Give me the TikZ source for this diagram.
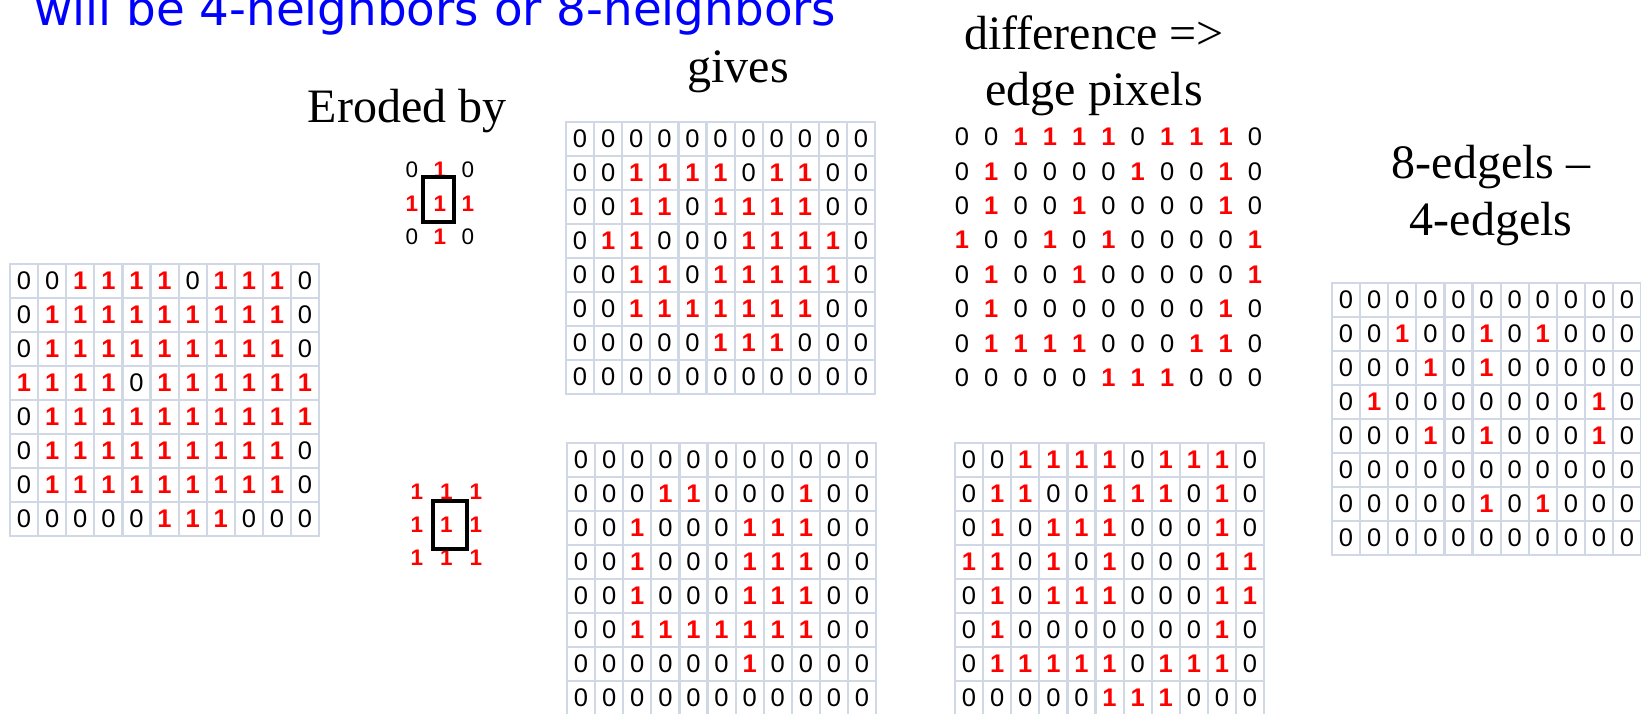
\documentclass[tikz,border=0pt]{standalone}
\usepackage{fontspec}
\setmainfont{Liberation Serif}
\setsansfont{Liberation Sans}
\newfontfamily\slidefont{DejaVu Sans}
\usetikzlibrary{positioning}
\definecolor{gridline}{RGB}{208,215,229}
\definecolor{slideblue}{RGB}{0,0,255}

\tikzset{
  pix/.style={inner sep=0pt, minimum width=28.1pt, minimum height=34pt,
    font=\sffamily\fontsize{25.5}{26}\selectfont},
  boxed/.style={draw=gridline, line width=2.2pt},
  sebit/.style={inner sep=0pt, font=\sffamily\fontsize{22.5}{23}\selectfont},
  zero/.style={text=black},
  one/.style={text=red, execute at begin node=\bfseries},
  bit/.code={\ifnum#1=1 \pgfkeysalso{/tikz/one}\else\pgfkeysalso{/tikz/zero}\fi},
  caption/.style={inner sep=0pt, font=\fontsize{48}{55}\selectfont},
  sebox/.style={draw=black, line width=3.3pt, inner sep=0pt},
}

\begin{document}
\begin{tikzpicture}[x=1pt,y=-1pt]
\useasboundingbox (0,0) rectangle (1641,713);

%title, cut off at the top
\node[anchor=base west, inner sep=0pt, text=slideblue, font=\slidefont\fontsize{46.8}{50}\selectfont] (hint) at (34,25) {will be 4-neighbors or 8-neighbors};

%labels
\node[caption, anchor=base] (erodedby) at (407,122) {Eroded by};
\node[caption, anchor=base] (gives) at (738,82) {gives};
\node[caption, anchor=base] (diff) at (1094,49) {difference =>};
\node[caption, anchor=base] (edgepx) at ([yshift=-56pt]diff.base) {edge pixels};
\node[caption, anchor=base] (eight) at (1491,178) {8-edgels --};
\node[caption, anchor=base] (four) at ([yshift=-57pt]eight.base) {4-edgels};

%input image
\foreach \row [count=\r] in {{0,0,1,1,1,1,0,1,1,1,0},{0,1,1,1,1,1,1,1,1,1,0},{0,1,1,1,1,1,1,1,1,1,0},{1,1,1,1,0,1,1,1,1,1,1},{0,1,1,1,1,1,1,1,1,1,1},{0,1,1,1,1,1,1,1,1,1,0},{0,1,1,1,1,1,1,1,1,1,0},{0,0,0,0,0,1,1,1,0,0,0}}
  \foreach \v [count=\c] in \row
    \node[pix, boxed, bit=\v] (in-\r-\c) at ({10+28.1*(\c-0.5)},{264+34*(\r-0.5)}) {\v};

%structuring elements
\foreach \row [count=\r] in {{0,1,0},{1,1,1},{0,1,0}}
  \foreach \v [count=\c] in \row
    \node[sebit, bit=\v] (sefour-\r-\c) at ({412+28*(\c-1)},{170+33.5*(\r-1)}) {\v};
\node[sebox, minimum width=31pt, minimum height=45pt] (sefourbox) at (438.5,199.5) {};
\foreach \row [count=\r] in {{1,1,1},{1,1,1},{1,1,1}}
  \foreach \v [count=\c] in \row
    \node[sebit, bit=\v] (seeight-\r-\c) at ({417+29.5*(\c-1)},{492+33*(\r-1)}) {\v};
\node[sebox, minimum width=34pt, minimum height=48pt] (seeightbox) at (450,525) {};

%eroded, 4-neighbors
\foreach \row [count=\r] in {{0,0,0,0,0,0,0,0,0,0,0},{0,0,1,1,1,1,0,1,1,0,0},{0,0,1,1,0,1,1,1,1,0,0},{0,1,1,0,0,0,1,1,1,1,0},{0,0,1,1,0,1,1,1,1,1,0},{0,0,1,1,1,1,1,1,1,0,0},{0,0,0,0,0,1,1,1,0,0,0},{0,0,0,0,0,0,0,0,0,0,0}}
  \foreach \v [count=\c] in \row
    \node[pix, boxed, bit=\v] (efour-\r-\c) at ({566+28.1*(\c-0.5)},{122+34*(\r-0.5)}) {\v};

%difference, 4-neighbors
\foreach \row [count=\r] in {{0,0,1,1,1,1,0,1,1,1,0},{0,1,0,0,0,0,1,0,0,1,0},{0,1,0,0,1,0,0,0,0,1,0},{1,0,0,1,0,1,0,0,0,0,1},{0,1,0,0,1,0,0,0,0,0,1},{0,1,0,0,0,0,0,0,0,1,0},{0,1,1,1,1,0,0,0,1,1,0},{0,0,0,0,0,1,1,1,0,0,0}}
  \foreach \v [count=\c] in \row
    \node[pix, minimum width=29.3pt, bit=\v] (dfour-\r-\c) at ({962+29.3*(\c-1)},{137+34.4*(\r-1)}) {\v};

%eroded, 8-neighbors
\foreach \row [count=\r] in {{0,0,0,0,0,0,0,0,0,0,0},{0,0,0,1,1,0,0,0,1,0,0},{0,0,1,0,0,0,1,1,1,0,0},{0,0,1,0,0,0,1,1,1,0,0},{0,0,1,0,0,0,1,1,1,0,0},{0,0,1,1,1,1,1,1,1,0,0},{0,0,0,0,0,0,1,0,0,0,0},{0,0,0,0,0,0,0,0,0,0,0}}
  \foreach \v [count=\c] in \row
    \node[pix, boxed, bit=\v] (eeight-\r-\c) at ({567+28.1*(\c-0.5)},{443+34*(\r-0.5)}) {\v};

%difference, 8-neighbors
\foreach \row [count=\r] in {{0,0,1,1,1,1,0,1,1,1,0},{0,1,1,0,0,1,1,1,0,1,0},{0,1,0,1,1,1,0,0,0,1,0},{1,1,0,1,0,1,0,0,0,1,1},{0,1,0,1,1,1,0,0,0,1,1},{0,1,0,0,0,0,0,0,0,1,0},{0,1,1,1,1,1,0,1,1,1,0},{0,0,0,0,0,1,1,1,0,0,0}}
  \foreach \v [count=\c] in \row
    \node[pix, boxed, bit=\v] (deight-\r-\c) at ({955+28.1*(\c-0.5)},{443+34*(\r-0.5)}) {\v};

%8-edgels minus 4-edgels
\foreach \row [count=\r] in {{0,0,0,0,0,0,0,0,0,0,0},{0,0,1,0,0,1,0,1,0,0,0},{0,0,0,1,0,1,0,0,0,0,0},{0,1,0,0,0,0,0,0,0,1,0},{0,0,0,1,0,1,0,0,0,1,0},{0,0,0,0,0,0,0,0,0,0,0},{0,0,0,0,0,1,0,1,0,0,0},{0,0,0,0,0,0,0,0,0,0,0}}
  \foreach \v [count=\c] in \row
    \node[pix, boxed, bit=\v] (edgels-\r-\c) at ({1332+28.1*(\c-0.5)},{283+34*(\r-0.5)}) {\v};
\end{tikzpicture}
\end{document}
